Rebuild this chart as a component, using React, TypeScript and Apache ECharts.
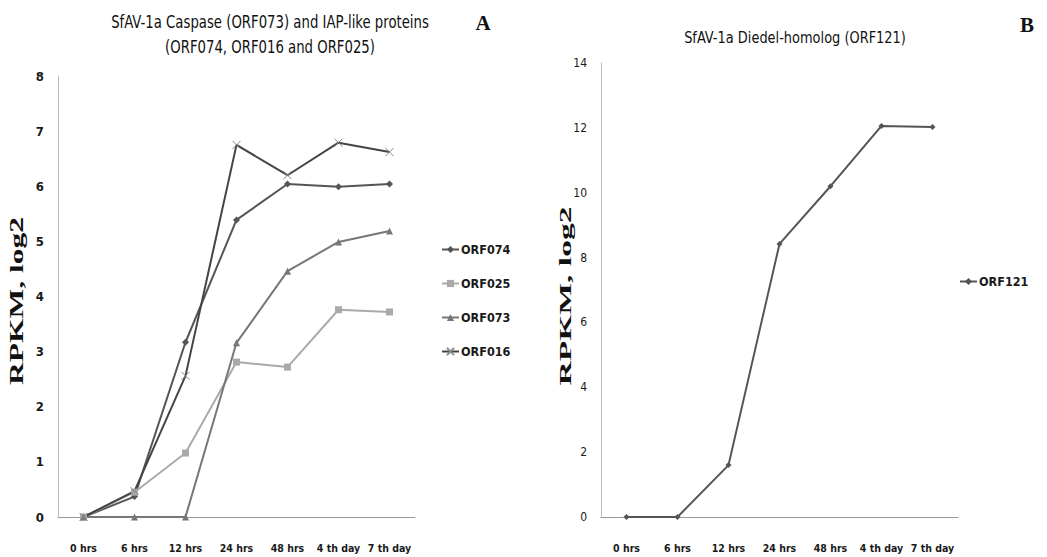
import React, { useEffect, useRef } from "react";
import * as echarts from "echarts";

const categories = ["0 hrs", "6 hrs", "12 hrs", "24 hrs", "48 hrs", "4 th day", "7 th day"];
const orf074 = [0, 0.37, 3.17, 5.39, 6.04, 5.99, 6.04];
const orf025 = [0, 0.45, 1.16, 2.81, 2.72, 3.76, 3.72];
const orf073 = [0, 0, 0, 3.16, 4.46, 4.99, 5.19];
const orf016 = [0, 0.47, 2.56, 6.75, 6.2, 6.79, 6.62];
const orf121 = [0, 0, 1.6, 8.42, 10.2, 12.06, 12.03];

const NARROW = "'DejaVu Sans Condensed', 'Liberation Sans Narrow', sans-serif";
const SERIF = "'Liberation Serif', 'DejaVu Serif', serif";

export default function App() {
  const ref = useRef<HTMLDivElement>(null);
  useEffect(() => {
    document.body.style.margin = "0";
    const chart = echarts.init(ref.current!, null, { renderer: "svg" });
    const xLabel = { color: "#1a1a1a", fontFamily: NARROW, fontWeight: "bold", fontSize: 10.5, interval: 0, margin: 25 };
    const xAxisBase = {
      type: "category",
      data: categories,
      boundaryGap: true,
      axisLine: { lineStyle: { color: "#999", width: 1 } },
      axisTick: { show: false },
      axisLabel: xLabel,
    };
    const yAxisBase = {
      type: "value",
      splitLine: { show: false },
      axisLine: { show: true, lineStyle: { color: "#bbb", width: 1 } },
      axisTick: { show: false },
    };
    const xMark = "path://M0,0L10,10M10,0L0,10";
    const titleStyle = (text: string, x: number, y: number, size: number, sx: number) => ({
      type: "text",
      x,
      y,
      scaleX: sx,
      style: {
        text,
        fontFamily: NARROW,
        fontSize: size,
        fill: "#111",
        align: "center",
        verticalAlign: "middle",
      },
    });
    const axisName = (x: number, y: number, size: number, stretch: number) => ({
      type: "text",
      x,
      y,
      rotation: Math.PI / 2,
      scaleX: stretch,
      style: {
        text: "RPKM, log2",
        fontFamily: SERIF,
        fontWeight: "bold",
        fontSize: size,
        fill: "#111",
        align: "center",
        verticalAlign: "middle",
      },
    });
    chart.setOption({
      animation: false,
      graphic: [
        titleStyle("SfAV-1a Caspase (ORF073) and IAP-like proteins", 270, 22, 18, 0.82),
        titleStyle("(ORF074, ORF016 and ORF025)", 270, 47, 18, 0.82),
        titleStyle("SfAV-1a Diedel-homolog (ORF121)", 795, 38, 16, 0.9),
        axisName(17, 301, 18, 1.75),
        axisName(566, 296, 16, 2.1),
        {
          type: "text", x: 483, y: 23,
          style: { text: "A", fontFamily: SERIF, fontSize: 21, fontWeight: "bold", fill: "#111", align: "center", verticalAlign: "middle" },
        },
        {
          type: "text", x: 1027, y: 25,
          style: { text: "B", fontFamily: SERIF, fontSize: 21, fontWeight: "bold", fill: "#111", align: "center", verticalAlign: "middle" },
        },
      ],
      legend: [
        {
          orient: "vertical",
          left: 436,
          top: 238,
          itemGap: 21,
          itemWidth: 17,
          itemHeight: 9,
          textStyle: { fontFamily: NARROW, fontWeight: "bold", fontSize: 12.5, color: "#1a1a1a", padding: [0, 0, 0, -3] },
          data: ["ORF074", "ORF025", "ORF073", "ORF016"],
        },
        {
          orient: "vertical",
          left: 954,
          top: 270,
          itemWidth: 17,
          itemHeight: 9,
          textStyle: { fontFamily: NARROW, fontWeight: "bold", fontSize: 12.5, color: "#1a1a1a", padding: [0, 0, 0, -3] },
          data: ["ORF121"],
        },
      ],
      grid: [
        { left: 58, right: 632, top: 76, bottom: 40, containLabel: false },
        { left: 601, right: 89, top: 63, bottom: 40, containLabel: false },
      ],
      xAxis: [
        { ...xAxisBase, gridIndex: 0 },
        { ...xAxisBase, gridIndex: 1 },
      ],
      yAxis: [
        {
          ...yAxisBase, gridIndex: 0, min: 0, max: 8, interval: 1,
          axisLabel: { color: "#1a1a1a", fontFamily: NARROW, fontWeight: "bold", fontSize: 13, margin: 14 },
        },
        {
          ...yAxisBase, gridIndex: 1, min: 0, max: 14, interval: 2,
          axisLabel: { color: "#1a1a1a", fontFamily: NARROW, fontSize: 12, margin: 14 },
        },
      ],
      series: [
        {
          name: "ORF074", type: "line", data: orf074, xAxisIndex: 0, yAxisIndex: 0,
          symbol: "diamond", symbolSize: 7,
          lineStyle: { color: "#555", width: 2 }, itemStyle: { color: "#555" },
        },
        {
          name: "ORF025", type: "line", data: orf025, xAxisIndex: 0, yAxisIndex: 0,
          symbol: "rect", symbolSize: 7,
          lineStyle: { color: "#aaa", width: 2 }, itemStyle: { color: "#aaa" },
        },
        {
          name: "ORF073", type: "line", data: orf073, xAxisIndex: 0, yAxisIndex: 0,
          symbol: "triangle", symbolSize: 7,
          lineStyle: { color: "#777", width: 2 }, itemStyle: { color: "#777" },
        },
        {
          name: "ORF016", type: "line", data: orf016, xAxisIndex: 0, yAxisIndex: 0,
          symbol: xMark, symbolSize: 8,
          lineStyle: { color: "#444", width: 2 }, itemStyle: { color: "#888", borderColor: "#888", borderWidth: 1 },
        },
        {
          name: "ORF121", type: "line", data: orf121, xAxisIndex: 1, yAxisIndex: 1,
          symbol: "diamond", symbolSize: 6,
          lineStyle: { color: "#555", width: 2 }, itemStyle: { color: "#555" },
        },
      ],
    });
    return () => chart.dispose();
  }, []);
  return <div ref={ref} style={{ position: "absolute", left: 0, top: 0, width: 1047, height: 557, background: "#fff" }} />;
}
